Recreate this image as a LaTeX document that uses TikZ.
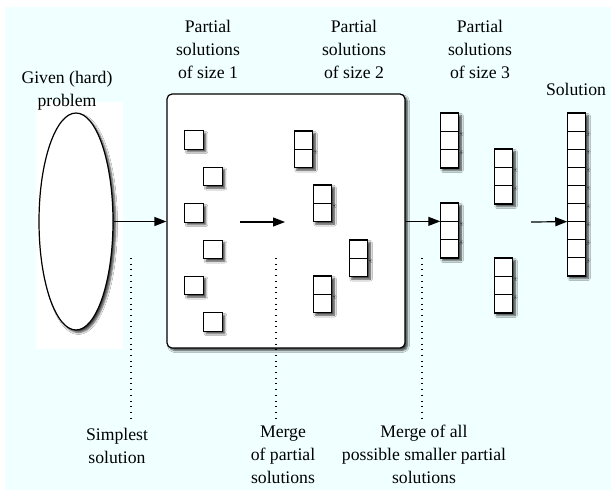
\documentclass[tikz,border=0pt]{standalone}
\usepackage{fontspec}
\setmainfont{Liberation Serif}
\usetikzlibrary{positioning}
\usetikzlibrary{arrows.meta}
\usetikzlibrary{shapes.geometric}
\usetikzlibrary{shadows.blur}
\definecolor{bgcyan}{RGB}{240,255,255}

\tikzset{
  soft/.style={blur shadow={shadow xshift=2.5pt, shadow yshift=-2.5pt, shadow blur steps=5, shadow blur radius=2pt, shadow opacity=75}},
  cell/.style={draw, fill=white, line width=1.2pt, minimum width=18.5pt, minimum height=18.3pt, inner sep=0pt, outer sep=0pt, soft},
  lbl/.style={align=center, font=\fontsize{17.7}{22.8}\selectfont, inner sep=0pt},
  guide/.style={line width=1.1pt, dash pattern=on 0.9pt off 4.8pt},
}

\begin{document}
\begin{tikzpicture}[x=1pt, y=-1pt, >={Triangle[length=12pt,width=9pt]}, line width=1.2pt]
    % page and background
    \useasboundingbox (0,0) rectangle (611,490);
    \fill[bgcyan] (5,7) rectangle (611,490);
    \fill[white] (36,102) rectangle (123,349);

    % given problem and the big box
    \node[draw, ellipse, fill=white, minimum width=74pt, minimum height=217pt, soft] (given) at (76,221.5) {};
    \node[draw, rounded corners=5pt, fill=white, minimum width=238pt, minimum height=254pt, soft] (box) at (286,221) {};

    % partial solutions of size 1
    \foreach \i/\x/\y in {1/194/140, 2/213/176.5, 3/194/213, 4/213/249.5, 5/194/285.5, 6/213/322}
        \node[cell] (one\i) at (\x,\y) {};

    % partial solutions of size 2
    \foreach \s/\x/\y in {twoa/303.5/140.2, twob/322.5/194.2, twoc/358.5/249.2, twod/322.5/285.2} {
        \node[cell] (\s0) at (\x,\y) {};
        \node[cell, below=0pt of \s0] (\s1) {};
    }

    % partial solutions of size 3
    \foreach \s/\x/\y in {thra/449.5/122.2, thrb/503.5/158.2, thrc/449.5/212.2, thrd/503.5/267.2} {
        \node[cell] (\s0) at (\x,\y) {};
        \node[cell, below=0pt of \s0] (\s1) {};
        \node[cell, below=0pt of \s1] (\s2) {};
    }

    % solution
    \foreach \i in {0,...,8}
        \node[cell, minimum height=18.1pt] (sol\i) at (576.5,{122.1+18.1*\i}) {};

    % arrows
    \coordinate (mgfrom) at (240,222);
    \coordinate (mgto) at (285,222);
    \coordinate (solfrom) at (531,222);
    \draw[->] (given.east) -- (given.east -| box.west);
    \draw[->] (mgfrom) -- (mgto);
    \draw[->] (box.east |- thrc0.south west) -- (thrc0.south west);
    \draw[->] (solfrom) -- (sol5.south west);

    % dotted guides
    \coordinate (gda) at (131,258);
    \coordinate (gdb) at (276,258);
    \coordinate (gdc) at (422,258);
    \draw[guide] (gda) -- ++(0,162);
    \draw[guide] (gdb) -- ++(0,162);
    \draw[guide] (gdc) -- ++(0,162);

    % labels
    \node[lbl] (lgiven) at (67,91) {Given (hard)\\problem};
    \node[lbl] (lone) at (208,49.5) {Partial\\solutions\\of size 1};
    \node[lbl] (ltwo) at (354,49.5) {Partial\\solutions\\of size 2};
    \node[lbl] (lthree) at (480,49.5) {Partial\\solutions\\of size 3};
    \node[lbl] (lsol) at (576,89.5) {Solution};
    \node[lbl] (lsimple) at (117,446) {Simplest\\solution};
    \node[lbl] (lmerge) at (283,454.5) {Merge\\of partial\\solutions};
    \node[lbl] (lmergeall) at (424,454.5) {Merge of all\\possible smaller partial\\solutions};
\end{tikzpicture}
\end{document}
